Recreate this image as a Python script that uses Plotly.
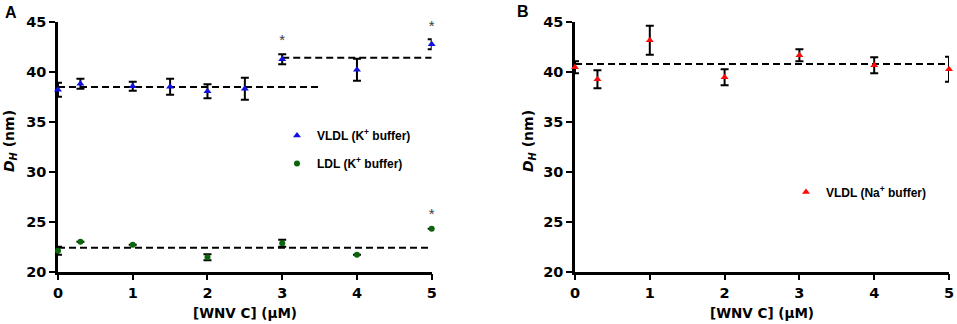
import plotly.graph_objects as go

# ---------------- data ----------------
k_conc = [0, 0.3, 1, 1.5, 2, 2.5, 3, 4, 5]
vldl_k = [38.2, 38.8, 38.55, 38.5, 38.05, 38.3, 41.25, 40.2, 42.75]
vldl_k_err = [0.7, 0.5, 0.45, 0.8, 0.7, 1.1, 0.5, 1.1, 0.5]

ldl_conc = [0, 0.3, 1, 2, 3, 4, 5]
ldl_k = [22.1, 23.0, 22.7, 21.45, 22.85, 21.7, 24.3]
ldl_k_err = [0.4, None, None, 0.3, 0.35, None, None]

na_conc = [0, 0.3, 1, 2, 3, 4, 5]
vldl_na = [40.45, 39.25, 43.15, 39.45, 41.65, 40.65, 40.25]
vldl_na_err = [0.6, 0.9, 1.45, 0.8, 0.6, 0.8, 1.25]

# mean (dashed) lines: x extents and level
mean_a_vldl1_x = [0, 3.5]
mean_a_vldl1_y = 38.47
mean_a_vldl2_x = [3, 5]
mean_a_vldl2_y = 41.4
mean_a_ldl_x = [0, 5]
mean_a_ldl_y = 22.4
mean_b_x = [0, 5]
mean_b_y = 40.77

# significance asterisks (panel A)
star_x = [3, 5, 5]
star_y = [43.0, 44.4, 25.65]

x_ticks = [0, 1, 2, 3, 4, 5]
y_ticks = [20, 25, 30, 35, 40, 45]

# ---------------- figure ----------------
W, H = 957, 324
fig = go.Figure()

BLUE = "#1010e0"
GREEN = "#0b650b"
RED = "#ff0a0a"

err_style = dict(type="data", color="black", thickness=2, width=4)
dash = "7px,4px"

def mean_line(xs, y, xa, ya):
    fig.add_trace(go.Scatter(x=xs, y=[y, y], mode="lines",
                             line=dict(color="black", width=2, dash=dash),
                             xaxis=xa, yaxis=ya, showlegend=False,
                             hoverinfo="skip", cliponaxis=False))

mean_line(mean_a_vldl1_x, mean_a_vldl1_y, "x", "y")
mean_line(mean_a_vldl2_x, mean_a_vldl2_y, "x", "y")
mean_line(mean_a_ldl_x, mean_a_ldl_y, "x", "y")
mean_line(mean_b_x, mean_b_y, "x2", "y2")

fig.add_trace(go.Scatter(
    x=k_conc, y=vldl_k, mode="markers", name="VLDL (K<sup>+</sup> buffer)",
    marker=dict(symbol="triangle-up", size=7, color=BLUE),
    error_y=dict(array=vldl_k_err, **err_style),
    xaxis="x", yaxis="y", legend="legend", legendgroup="a1", cliponaxis=False))

fig.add_trace(go.Scatter(
    x=ldl_conc, y=ldl_k, mode="markers", name="LDL (K<sup>+</sup> buffer)",
    marker=dict(symbol="circle", size=6, color=GREEN),
    error_y=dict(array=ldl_k_err, **err_style),
    xaxis="x", yaxis="y", legend="legend", legendgroup="a2", cliponaxis=False))

fig.add_trace(go.Scatter(
    x=na_conc, y=vldl_na, mode="markers", name="VLDL (Na<sup>+</sup> buffer)",
    marker=dict(symbol="triangle-up", size=7, color=RED),
    error_y=dict(array=vldl_na_err, **err_style),
    xaxis="x2", yaxis="y2", legend="legend2", cliponaxis=False))

fig.add_trace(go.Scatter(
    x=star_x, y=star_y, mode="text", text=["*"] * len(star_x),
    textfont=dict(family="Liberation Sans", size=15, color="#3a3a3a"),
    xaxis="x", yaxis="y", showlegend=False, hoverinfo="skip", cliponaxis=False))

tickfont = dict(family="DejaVu Sans", size=14.5, color="black", weight="bold")
common_x = dict(range=[0, 5], tickvals=x_ticks, ticks="outside", ticklen=6,
                tickwidth=2, tickcolor="black", showline=True, linewidth=2.5,
                linecolor="black", showgrid=False, zeroline=False, automargin=False,
                tickfont=tickfont, layer="below traces", fixedrange=True)
common_y = dict(range=[20, 45], tickvals=y_ticks, ticks="outside", ticklen=6,
                tickwidth=2, tickcolor="black", showline=True, linewidth=2.5,
                linecolor="black", showgrid=False, zeroline=False, automargin=False,
                tickfont=tickfont, layer="below traces", fixedrange=True)

ydom = [1 - 271.7 / H, 1 - 21.7 / H]
xdom_a = [58 / W, 431.7 / W]
xdom_b = [575 / W, 949 / W]

fig.update_layout(
    template="none",
    width=W, height=H, autosize=False,
    margin=dict(l=0, r=0, t=0, b=0, autoexpand=False),
    paper_bgcolor="white", plot_bgcolor="white",
    xaxis=dict(domain=xdom_a, anchor="y", **common_x),
    yaxis=dict(domain=ydom, anchor="x", **common_y),
    xaxis2=dict(domain=xdom_b, anchor="y2", **common_x),
    yaxis2=dict(domain=ydom, anchor="x2", **common_y),
    legend=dict(x=(297 - 20) / W, y=1 - 121 / H, xanchor="left", yanchor="top",
                font=dict(family="Liberation Sans", size=12, color="black", weight="bold"),
                bgcolor="rgba(0,0,0,0)", tracegroupgap=9),
    legend2=dict(x=(806 - 20) / W, y=1 - 177.5 / H, xanchor="left", yanchor="top",
                 font=dict(family="Liberation Sans", size=12, color="black", weight="bold"),
                 bgcolor="rgba(0,0,0,0)"),
)

title_font = dict(family="DejaVu Sans", size=13.5, color="black", weight="bold")
ann = []
for xc in [(xdom_a[0] + xdom_a[1]) / 2, (xdom_b[0] + xdom_b[1]) / 2]:
    ann.append(dict(text="[WNV C] (μM)", x=xc, y=1 - 312.5 / H, xref="paper", yref="paper",
                    xanchor="center", yanchor="middle", showarrow=False, font=title_font))
for xp in [10, 529]:
    ann.append(dict(text="<i>D</i><sub><i>H</i></sub> (nm)", x=xp / W, y=1 - 141 / H,
                    xref="paper", yref="paper", xanchor="center", yanchor="middle",
                    textangle=-90, showarrow=False,
                    font=dict(family="DejaVu Sans", size=14, color="black", weight="bold")))
for lab, xp, yp in [("A", 10.5, 13), ("B", 522.5, 12)]:
    ann.append(dict(text=lab, x=xp / W, y=1 - yp / H, xref="paper", yref="paper",
                    xanchor="center", yanchor="middle", showarrow=False,
                    font=dict(family="Liberation Sans", size=16, color="black", weight="bold")))
fig.update_layout(annotations=ann)

fig.write_html("out.html", config={"displayModeBar": False},
               post_script="document.body.style.margin='0';document.body.style.overflow='hidden';")
